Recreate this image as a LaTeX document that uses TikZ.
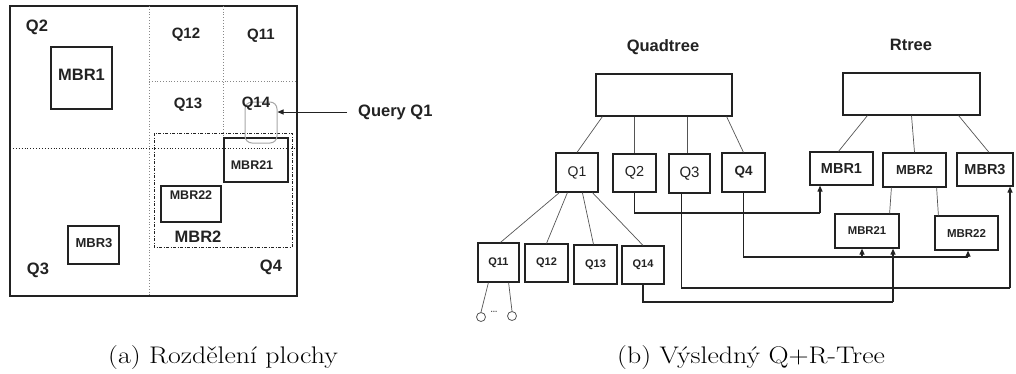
\documentclass[tikz,border=0pt]{standalone}
\usepackage{fontspec}
\newfontfamily\labfont{Liberation Sans}
\usetikzlibrary{arrows.meta,calc}
\newcommand\setfs[1]{\fontsize{#1}{#1}\selectfont}
\newcommand\widecap[1]{\scalebox{1.16}[1]{#1}}
\definecolor{ink}{HTML}{222222}
\definecolor{edgegray}{HTML}{555555}
\definecolor{dotgray}{HTML}{888888}

\begin{document}
\begin{tikzpicture}[x=1pt,y=-1pt,
  frame/.style={draw=ink,line width=1.2pt},
  lbl/.style={font=\labfont\bfseries\setfs{#1},text=ink,inner sep=0pt},
  lbl/.default=16,
  tnode/.style={draw=ink,line width=1.2pt,inner sep=0pt,text=ink},
  edge/.style={draw=edgegray,line width=0.7pt},
  link/.style={draw=ink,line width=1.1pt},
  arr/.style={link,-{Triangle[length=6pt,width=5pt]}},
  captext/.style={font=\setfs{24},anchor=west,inner sep=0pt}
]
\useasboundingbox (0,0) rectangle (1016,373);

% ---------- (a) space partition ----------
\draw[frame] (10,6) rectangle (297,296);
\draw[dotgray,line width=0.8pt,dotted] (149,6) -- (149,296);
\draw[ink,line width=0.9pt,dotted] (10,148) -- (297,148);
\draw[dotgray,line width=0.8pt,dotted] (223,6) -- (223,148);
\draw[dotgray,line width=0.8pt,dotted] (149,81) -- (297,81);

\draw[frame] (51,47) rectangle (112,109);
\draw[frame] (224,138) rectangle (288,182);
\draw[frame] (161,186) rectangle (221,222);
\draw[frame] (68,226) rectangle (119,264);
\draw[ink,line width=1pt,dash pattern=on 3pt off 1.5pt on 1pt off 1.5pt] (154,133) rectangle (292,247);

\node[draw=gray!70,line width=1pt,rounded corners=7pt,minimum width=32pt,minimum height=41pt,inner sep=0pt] (qrect) at (261,122.5) {};
\node[lbl=16.5,anchor=west] (qtext) at (358,112) {Query Q1};
\draw[arr,line width=0.9pt] ([xshift=-11pt]qtext.west) -- (qrect.east |- qtext.west);

\node[lbl=16.5] (a1) at (81.5,75) {MBR1};
\node[lbl=12.5] (a21) at (252,165) {MBR21};
\node[lbl=12.5] (a22) at (191,195) {MBR22};
\node[lbl=13] (a3) at (94,243) {MBR3};
\node[lbl=16.5] (a2) at (198,237) {MBR2};
\node[lbl=16.5] (aq2) at (37,27) {Q2};
\node[lbl=15] (aq12) at (186,35) {Q12};
\node[lbl=15] (aq11) at (261,36) {Q11};
\node[lbl=15] (aq13) at (188,105) {Q13};
\node[lbl=15] (aq14) at (256,104) {Q14};
\node[lbl=16.5] (aq3) at (38,270) {Q3};
\node[lbl=16.5] (aq4) at (271,267) {Q4};

\node[captext] (capa) at (108,358) {\widecap{(a) Rozdělení plochy}};

% ---------- (b) resulting Q+R-tree ----------
\node[lbl=16.5] (tq) at (663,47) {Quadtree};
\node[lbl=16.5] (tr) at (911,45) {Rtree};

\node[tnode,minimum width=136pt,minimum height=42pt] (qroot) at (664,95) {};
\node[tnode,minimum width=137pt,minimum height=42pt] (rroot) at (911.5,94) {};

\node[tnode,minimum width=42pt,minimum height=39pt,font=\labfont\setfs{14}] (q1) at (577,172.5) {Q1};
\node[tnode,minimum width=43pt,minimum height=38pt,font=\labfont\setfs{14.5}] (q2) at (634.5,173) {Q2};
\node[tnode,minimum width=41pt,minimum height=39pt,font=\labfont\setfs{15}] (q3) at (689.5,173.5) {Q3};
\node[tnode,minimum width=43pt,minimum height=39pt,font=\labfont\bfseries\setfs{13.5}] (q4) at (743.5,172.5) {Q4};

\node[tnode,minimum width=63pt,minimum height=33pt,font=\labfont\bfseries\setfs{14.5}] (m1) at (841.5,168.5) {MBR1};
\node[tnode,minimum width=63pt,minimum height=34pt,font=\labfont\bfseries\setfs{13}] (m2) at (914.5,170) {MBR2};
\node[tnode,minimum width=56pt,minimum height=33pt,font=\labfont\bfseries\setfs{14.5}] (m3) at (985,169.5) {MBR3};

\node[tnode,minimum width=64pt,minimum height=34pt,font=\labfont\bfseries\setfs{11.3}] (m21) at (867,231) {MBR21};
\node[tnode,minimum width=63pt,minimum height=34pt,font=\labfont\bfseries\setfs{11.5}] (m22) at (966.5,233) {MBR22};

\node[tnode,minimum width=41pt,minimum height=39pt,font=\labfont\bfseries\setfs{11}] (q11) at (498.5,262.5) {Q11};
\node[tnode,minimum width=43pt,minimum height=38pt,font=\labfont\bfseries\setfs{11}] (q12) at (546.5,263) {Q12};
\node[tnode,minimum width=43pt,minimum height=39pt,font=\labfont\bfseries\setfs{11}] (q13) at (595.5,264.5) {Q13};
\node[tnode,minimum width=42pt,minimum height=38pt,font=\labfont\bfseries\setfs{11}] (q14) at (643,265) {Q14};

\node[draw=edgegray,line width=0.8pt,circle,minimum size=9pt,inner sep=0pt] (leafa) at (481,317) {};
\node[draw=edgegray,line width=0.8pt,circle,minimum size=9pt,inner sep=0pt] (leafb) at (512,316) {};
\node[font=\labfont\bfseries\setfs{8},text=edgegray,inner sep=0pt] (dots) at (494,312) {...};

% tree edges
\draw[edge] ([xshift=7pt]qroot.south west) -- (q1.north);
\draw[edge] (q2.north |- qroot.south) -- (q2.north);
\draw[edge] ([xshift=-2pt]q3.north |- qroot.south) -- ([xshift=-2pt]q3.north);
\draw[edge] ([xshift=-6pt]qroot.south east) -- (q4.north);

\draw[edge] ([xshift=25pt]rroot.south west) -- ([xshift=-3pt]m1.north);
\draw[edge] (rroot.south) -- (m2.north);
\draw[edge] ([xshift=-22pt]rroot.south east) -- ([xshift=4pt]m3.north);

\draw[edge] ([xshift=9pt]m2.south west) -- ([xshift=-10pt]m21.north east);
\draw[edge] ([xshift=-10pt]m2.south east) -- ([xshift=4pt]m22.north west);

\draw[edge] ([xshift=4pt]q1.south west) -- ([xshift=2pt]q11.north);
\draw[edge] ([xshift=12pt]q1.south west) -- (q12.north);
\draw[edge] ([xshift=27pt]q1.south west) -- ([xshift=-2pt]q13.north);
\draw[edge] ([xshift=37pt]q1.south west) -- (q14.north);

\draw[edge] ([xshift=11pt]q11.south west) -- (leafa.north);
\draw[edge] ([xshift=-11pt]q11.south east) -- (leafb.north);

% links from quadtree cells to R-tree entries
\coordinate (b1) at (820,213);
\draw[link] (q2.south) |- (b1);
\draw[arr] (b1) -- (b1 |- m1.south);

\coordinate (b21) at (862,257);
\coordinate (b22) at (968,257);
\draw[link] (q4.south) |- (b22);
\draw[arr] (b21) -- (b21 |- m21.south);
\draw[arr] (b22) -- (b22 |- m22.south);

\coordinate (b3) at (1010,288);
\draw[link] ([xshift=-8pt]q3.south) |- (b3);
\draw[arr] (b3) -- (b3 |- m3.south);

\coordinate (b14) at (893,302);
\draw[link] (q14.south) |- (b14);
\draw[arr] (b14) -- (b14 |- m21.south);

\node[captext] (capb) at (617,358) {\widecap{(b) Výsledný Q+R-Tree}};
\end{tikzpicture}
\end{document}
